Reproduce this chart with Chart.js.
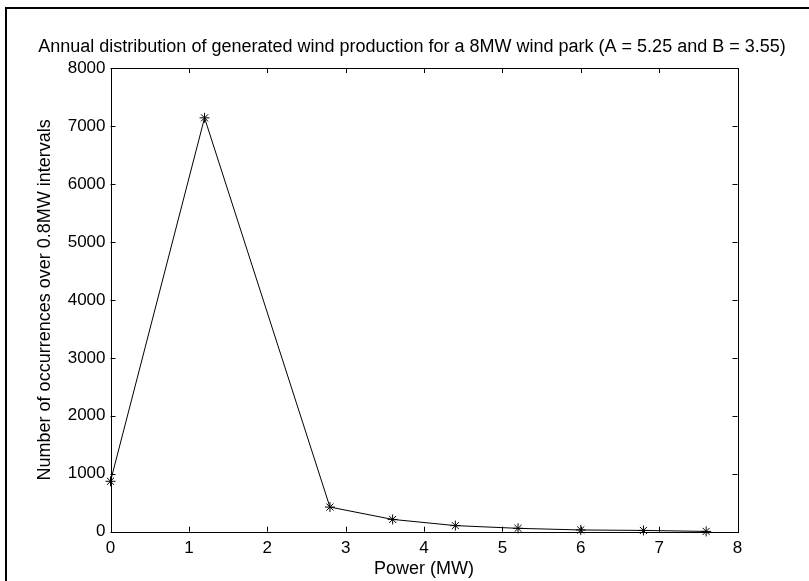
<!DOCTYPE html>
<html>
<head>
<meta charset="utf-8">
<script src="https://cdn.jsdelivr.net/npm/chart.js@4.4.1/dist/chart.umd.min.js"></script>
<style>
  html, body { margin: 0; padding: 0; background: #fff; }
  #wrap { position: relative; width: 809px; height: 581px; overflow: hidden; }
  #frame { position: absolute; left: 5px; top: 7px; right: -10px; bottom: -10px;
           border-left: 2px solid #000; border-top: 2px solid #000; pointer-events: none; }
  canvas { position: absolute; left: 0; top: 0; }
</style>
</head>
<body>
<div id="wrap">
  <canvas id="windChart" width="809" height="581"></canvas>
  <div id="frame"></div>
</div>
<script>
const titleText = 'Annual distribution of generated wind production for a 8MW wind park (A = 5.25 and B = 3.55)';
const powerMW = [0, 1.2, 2.8, 3.6, 4.4, 5.2, 6.0, 6.8, 7.6];
const occurrences = [870, 7140, 425, 212, 105, 58, 30, 22, 5];
const xTicks = [0, 1, 2, 3, 4, 5, 6, 7, 8];
const yTicks = [0, 1000, 2000, 3000, 4000, 5000, 6000, 7000, 8000];

const FONT = 'Liberation Sans, Arial, Helvetica, sans-serif';

// MATLAB-like box with inward ticks, plus the title
const matlabBox = {
  id: 'matlabBox',
  afterDatasetsDraw(chart) {
    const { ctx, chartArea: a, scales: { x, y } } = chart;
    const len = 5;
    ctx.save();
    ctx.strokeStyle = '#000';
    ctx.lineWidth = 1;
    ctx.beginPath();
    xTicks.forEach(v => {
      const px = Math.round(x.getPixelForValue(v)) + 0.5;
      ctx.moveTo(px, a.bottom); ctx.lineTo(px, a.bottom - len);
      ctx.moveTo(px, a.top); ctx.lineTo(px, a.top + len);
    });
    yTicks.forEach(v => {
      const py = Math.round(y.getPixelForValue(v)) + 0.5;
      ctx.moveTo(a.left, py); ctx.lineTo(a.left + len, py);
      ctx.moveTo(a.right, py); ctx.lineTo(a.right - len, py);
    });
    ctx.stroke();
    ctx.strokeRect(Math.round(a.left) + 0.5, Math.round(a.top) + 0.5,
                   Math.round(a.right - a.left), Math.round(a.bottom - a.top));
    ctx.fillStyle = '#000';
    ctx.font = '18px ' + FONT;
    ctx.textAlign = 'center';
    ctx.textBaseline = 'middle';
    ctx.fillText(titleText, 412, 47);
    ctx.restore();
  }
};

new Chart(document.getElementById('windChart'), {
  type: 'line',
  data: {
    datasets: [{
      data: powerMW.map((p, i) => ({ x: p, y: occurrences[i] })),
      borderColor: '#000',
      borderWidth: 1,
      pointStyle: 'star',
      pointRadius: 5,
      pointBorderColor: '#000',
      pointBorderWidth: 1,
      tension: 0,
      fill: false,
      clip: false
    }]
  },
  options: {
    responsive: false,
    animation: false,
    devicePixelRatio: 1,
    layout: { padding: { left: 28, right: 71.5, top: 68, bottom: 0 } },
    plugins: { legend: { display: false }, tooltip: { enabled: false }, title: { display: false } },
    scales: {
      x: {
        type: 'linear',
        min: 0, max: 8,
        afterBuildTicks: s => { s.ticks = xTicks.map(v => ({ value: v })); },
        afterFit: s => { s.height = 49.3; },
        grid: { display: false, drawTicks: false },
        border: { display: false },
        ticks: { color: '#000', padding: 6, font: { family: FONT, size: 17 },
                 callback: v => String(v) },
        title: { display: true, text: 'Power (MW)', color: '#000', padding: 1,
                 font: { family: FONT, size: 18 } }
      },
      y: {
        min: 0, max: 8000,
        afterBuildTicks: s => { s.ticks = yTicks.map(v => ({ value: v })); },
        afterFit: s => { s.width = 110.5 - 28; },
        grid: { display: false, drawTicks: false },
        border: { display: false },
        ticks: { color: '#000', padding: 5, font: { family: FONT, size: 17 },
                 callback: v => String(v) },
        title: { display: true, text: 'Number of occurrences over 0.8MW intervals', color: '#000',
                 padding: 6, font: { family: FONT, size: 18 } }
      }
    }
  },
  plugins: [matlabBox]
});
</script>
</body>
</html>
